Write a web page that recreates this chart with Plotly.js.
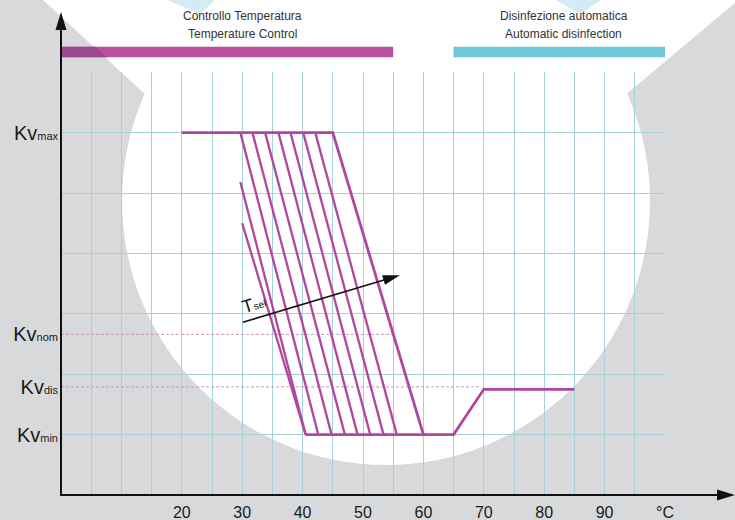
<!DOCTYPE html>
<html>
<head>
<meta charset="utf-8">
<script src="https://cdn.plot.ly/plotly-3.0.1.min.js"></script>
<style>html,body{margin:0;padding:0;background:#d8d9db;}#chart{width:735px;height:520px;}</style>
</head>
<body>
<div id="chart"></div>
<script>
// ---- data ----
const xTickVals = [20, 30, 40, 50, 60, 70, 80, 90, 100];
const xTickText = ['20', '30', '40', '50', '60', '70', '80', '90', '°C'];
const xGridVals = [0,5,10,15,20,25,30,35,40,45,50,55,60,65,70,75,80,85,90,95,100];
const yGridVals = [1, 2, 3, 4, 5, 6, 7];
const yTickVals = [6, 2.66, 1.79, 1];
const yTickNames = ['max', 'nom', 'dis', 'min'];

const curveX = [20, 45, 60, 65, 70, 85];
const curveY = [6, 6, 1, 1, 1.75, 1.75];
const baseX = [40.5, 60];
const baseY = [1, 1];

const hatchX0 = [30.0, 29.7, 29.7, 31.7, 33.8, 36.0, 38.0, 40.1, 42.1];
const hatchY0 = [4.50, 5.18, 6, 6, 6, 6, 6, 6, 6];
const hatchX1 = [40.5, 40.5, 42.6, 44.8, 47.0, 49.1, 51.2, 53.4, 55.6];
const hatchY1 = [1, 1, 1, 1, 1, 1, 1, 1, 1];

const nomX = [0, 55];
const nomY = [2.66, 2.66];
const disX = [0, 69.3];
const disY = [1.79, 1.79];

const tselFrom = [30.1, 2.86];
const tselTo = [56.1, 3.64];

const ctrlBar = [0, 55];
const disBar = [65, 100];
const ctrlText = ['Controllo Temperatura', 'Temperature Control'];
const disText = ['Disinfezione automatica', 'Automatic disinfection'];
const ctrlCenter = 30;
const disCenter = 83.2;

// ---- layout helpers ----
const L = 61, T = 72, W = 604, H = 423;
const XR = [0, 100], YR = [0, 7.004];
const px = v => (v - L) / W;              // pixel x -> paper
const py = v => (T + H - v) / H;          // pixel y -> paper
const dx2p = x => L + (x - XR[0]) / (XR[1] - XR[0]) * W;   // data -> pixel
const dy2p = y => T + H - (y - YR[0]) / (YR[1] - YR[0]) * H;

const hx = [], hy = [];
for (let i = 0; i < hatchX0.length; i++) {
  hx.push(hatchX0[i], hatchX1[i], null);
  hy.push(hatchY0[i], hatchY1[i], null);
}

const magenta = '#b1479c';
const dashCol = '#c996c2';
const gridCol = '#a3d2d9';
const ink = '#111111';

const traces = [
  {x: nomX, y: nomY, mode: 'lines', line: {color: dashCol, width: 1, dash: '3px,2px'}, hoverinfo: 'skip'},
  {x: disX, y: disY, mode: 'lines', line: {color: dashCol, width: 1, dash: '3px,2px'}, hoverinfo: 'skip'},
  {x: hx, y: hy, mode: 'lines', line: {color: magenta, width: 2.3}, connectgaps: false, hoverinfo: 'skip'},
  {x: baseX, y: baseY, mode: 'lines', line: {color: magenta, width: 2.6}, hoverinfo: 'skip'},
  {x: curveX, y: curveY, mode: 'lines', line: {color: magenta, width: 2.8}, hoverinfo: 'skip'}
];

function tri(tipX, tipY, backX, backY, half) {
  const ddx = tipX - backX, ddy = tipY - backY;
  const len = Math.hypot(ddx, ddy);
  const nx = -ddy / len * half, ny = ddx / len * half;
  return 'M ' + px(tipX) + ',' + py(tipY) +
    ' L ' + px(backX + nx) + ',' + py(backY + ny) +
    ' L ' + px(backX - nx) + ',' + py(backY - ny) + ' Z';
}

// background watermark geometry (pixels)
const diagX = y => 43 + 104 * y / 93;
const whitePath = 'M ' + px(43) + ',' + py(0) + ' L ' + px(147) + ',' + py(96) +
  ' L ' + px(624) + ',' + py(96) + ' L ' + px(735) + ',' + py(3) + ' L ' + px(735) + ',' + py(-2) +
  ' L ' + px(43) + ',' + py(-2) + ' Z';
const tri1 = 'M ' + px(167) + ',' + py(0) + ' L ' + px(215) + ',' + py(0) + ' L ' + px(200) + ',' + py(14) + ' Z';
const tri2 = 'M ' + px(556) + ',' + py(0) + ' L ' + px(601) + ',' + py(0) + ' L ' + px(580) + ',' + py(14) + ' Z';
const barTop = 46.7, barBot = 57.3;
const barShade = 'M ' + px(dx2p(ctrlBar[0])) + ',' + py(barTop) + ' L ' + px(diagX(barTop)) + ',' + py(barTop) +
  ' L ' + px(diagX(barBot)) + ',' + py(barBot) + ' L ' + px(dx2p(ctrlBar[0])) + ',' + py(barBot) + ' Z';

// T sel arrow geometry (pixel space, from the data endpoints)
const aX0 = dx2p(tselFrom[0]), aY0 = dy2p(tselFrom[1]);
const aX1 = dx2p(tselTo[0]), aY1 = dy2p(tselTo[1]);
const aLen = Math.hypot(aX1 - aX0, aY1 - aY0);
const headLen = 17;
const aBX = aX1 - (aX1 - aX0) / aLen * headLen, aBY = aY1 - (aY1 - aY0) / aLen * headLen;

const axisX0 = dx2p(XR[0]), axisY0 = dy2p(YR[0]);

const shapes = [
  {type: 'circle', xref: 'paper', yref: 'paper', x0: px(122), x1: px(650), y0: py(465), y1: py(-63),
   fillcolor: '#ffffff', line: {width: 0}, layer: 'below'},
  {type: 'path', xref: 'paper', yref: 'paper', path: whitePath, fillcolor: '#ffffff', line: {width: 0}, layer: 'below'},
  {type: 'path', xref: 'paper', yref: 'paper', path: tri1, fillcolor: '#d3ebf4', line: {width: 0}, layer: 'below'},
  {type: 'path', xref: 'paper', yref: 'paper', path: tri2, fillcolor: '#d3ebf4', line: {width: 0}, layer: 'below'},
  {type: 'rect', xref: 'x', yref: 'paper', x0: ctrlBar[0], x1: ctrlBar[1], y0: py(barBot), y1: py(barTop),
   fillcolor: '#b84f9f', line: {width: 0}},
  {type: 'path', xref: 'paper', yref: 'paper', path: barShade, fillcolor: '#9c4a8c', line: {width: 0}},
  {type: 'rect', xref: 'x', yref: 'paper', x0: disBar[0], x1: disBar[1], y0: py(barBot), y1: py(barTop),
   fillcolor: '#6bc9da', line: {width: 0}},
  // axes with arrows
  {type: 'line', xref: 'paper', yref: 'paper', x0: px(axisX0), y0: py(axisY0 + 1), x1: px(axisX0), y1: py(24),
   line: {color: ink, width: 2}},
  {type: 'path', xref: 'paper', yref: 'paper', path: tri(axisX0, 12, axisX0, 30, 5.5), fillcolor: ink, line: {width: 0}},
  {type: 'line', xref: 'paper', yref: 'paper', x0: px(axisX0 - 1), y0: py(axisY0), x1: px(722), y1: py(axisY0),
   line: {color: ink, width: 2}},
  {type: 'path', xref: 'paper', yref: 'paper', path: tri(735, axisY0, 717, axisY0, 5.5), fillcolor: ink, line: {width: 0}},
  // T sel arrow
  {type: 'line', xref: 'paper', yref: 'paper', x0: px(aX0), y0: py(aY0), x1: px(aBX + (aX1 - aX0) / aLen * 3), y1: py(aBY + (aY1 - aY0) / aLen * 3),
   line: {color: ink, width: 1.6}},
  {type: 'path', xref: 'paper', yref: 'paper', path: tri(aX1, aY1, aBX, aBY, 5), fillcolor: ink, line: {width: 0}}
];

const topFont = {family: 'Liberation Sans, Arial, sans-serif', size: 12, color: '#333333'};
const annotations = [
  {xref: 'x', yref: 'paper', x: ctrlCenter, y: py(16), text: ctrlText[0], showarrow: false, font: topFont, yanchor: 'middle'},
  {xref: 'x', yref: 'paper', x: ctrlCenter, y: py(34), text: ctrlText[1], showarrow: false, font: topFont, yanchor: 'middle'},
  {xref: 'x', yref: 'paper', x: disCenter, y: py(16), text: disText[0], showarrow: false, font: topFont, yanchor: 'middle'},
  {xref: 'x', yref: 'paper', x: disCenter, y: py(34), text: disText[1], showarrow: false, font: topFont, yanchor: 'middle'},
  {xref: 'x', yref: 'y', x: 31.9, y: 3.16, text: 'T<span style="font-size:10px">sel</span>', showarrow: false,
   textangle: -17, font: {family: 'Liberation Sans, Arial, sans-serif', size: 18, color: ink}}
];

const yTickText = yTickNames.map(n => 'Kv<span style="font-size:11px">' + n + '</span>');

const layout = {
  width: 735, height: 520,
  margin: {l: L, r: 735 - L - W, t: T, b: 520 - T - H, pad: 0},
  paper_bgcolor: '#d8d9db',
  plot_bgcolor: 'rgba(0,0,0,0)',
  showlegend: false,
  font: {family: 'Liberation Sans, Arial, sans-serif', color: '#1a1a1a'},
  xaxis: {
    range: XR, tickmode: 'array', tickvals: xTickVals, ticktext: xTickText,
    showgrid: true, gridcolor: gridCol, gridwidth: 1, zeroline: false, showline: false, ticks: '',
    ticklabelstandoff: 6,
    tickfont: {size: 16, color: '#1a1a1a'}, fixedrange: true,
    minor: {tickmode: 'array', tickvals: xGridVals, showgrid: true, gridcolor: gridCol, gridwidth: 1, ticks: ''}
  },
  yaxis: {
    range: YR, tickmode: 'array', tickvals: yTickVals, ticktext: yTickText,
    showgrid: false, zeroline: false, showline: false, ticks: '',
    ticklabelstandoff: 2,
    tickfont: {size: 20, color: '#1a1a1a'}, fixedrange: true,
    minor: {tickmode: 'array', tickvals: yGridVals, showgrid: true, gridcolor: gridCol, gridwidth: 1, ticks: ''}
  },
  shapes: shapes,
  annotations: annotations
};

Plotly.newPlot('chart', traces, layout, {displayModeBar: false, staticPlot: true});
</script>
</body>
</html>
